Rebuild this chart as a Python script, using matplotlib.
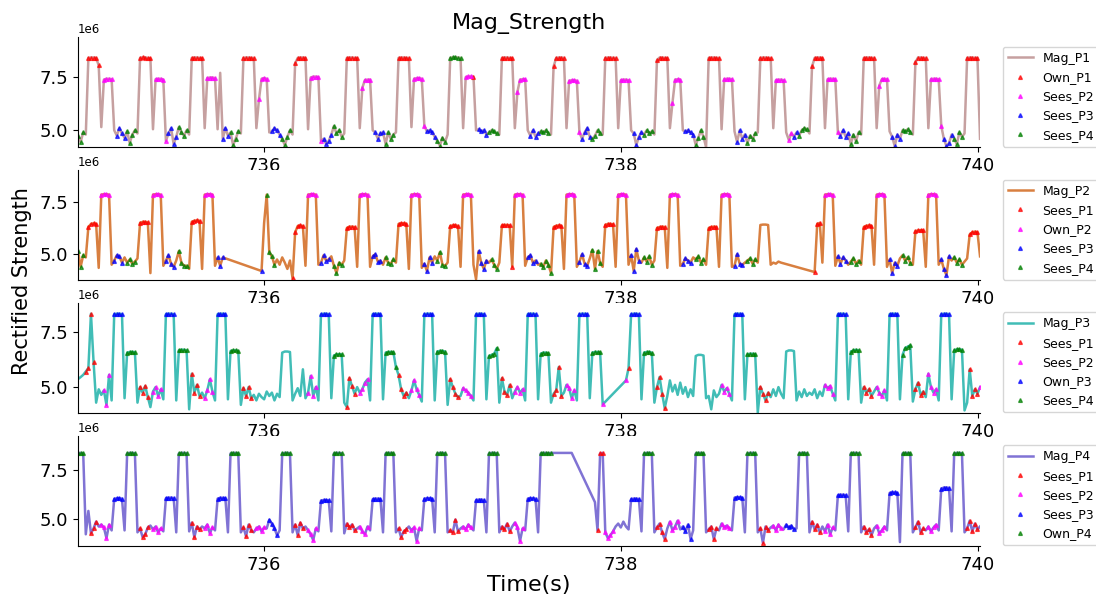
import numpy as np
import matplotlib.pyplot as plt

# sample grid (seconds)
T_START = 734.958
T_STEP = 0.014485
N_SAMPLES = 350

# magnitudes in units of 1e6, one row per ~0.29 s cycle, None = no sample
MAG_P1 = [
    4.75, 4.45, 4.9, 4.8,
    8.4, 8.42, 8.42, 8.4, 8.05, 5.15, 7.38, 7.42, 7.42, 7.4, 5.0, 4.75, 5.1, 4.85, 4.65, 4.95, 4.4, 4.8, 5.0, 4.85,
    8.4, 8.43, 8.42, 8.4, 8.38, 5.05, 7.4, 7.42, 7.42, 7.38, 4.5, 4.85, 5.1, 4.35, 4.7, 5.15, 4.9, 4.75, 5.0, 4.8,
    8.4, 8.42, 8.42, 8.4, 8.4, 5.1, 7.45, 7.48, 7.48, 7.45, 5.05, 7.7, 4.6, 5.1, 4.75, 4.9, 4.3, 4.6, 4.95, 4.85,
    8.4, 8.42, 8.42, 8.4, 8.4, 5.1, 6.45, 7.42, 7.45, 7.42, 4.9, 4.95, 5.1, 5.0, 4.8, 4.6, 4.3, 4.7, 5.0, 4.8,
    8.15, 8.4, 8.42, 8.42, 8.4, 5.05, 7.48, 7.52, 7.52, 7.5, 4.5, 4.6, 4.35, 4.5, 4.8, 5.2, 4.85, 5.0, 4.7, 4.85,
    8.4, 8.42, 8.42, 8.4, 8.4, 5.1, 7.0, 7.36, 7.38, 7.38, 5.0, 4.9, 4.6, 4.85, 4.9, 4.35, 4.9, 4.6, 4.8, 4.9,
    8.4, 8.42, 8.42, 8.4, 8.4, 5.15, 7.42, 7.45, 7.45, 7.42, 5.2, 4.95, 5.0, 4.9, 4.7, 4.5, 4.28, 4.65, 4.45, 4.8,
    8.4, 8.43, 8.43, 8.42, 8.4, 5.1, 7.5, 7.53, 7.53, 7.52, 5.0, 5.05, 4.95, 5.0, 4.8, 4.9, 5.0, 4.95, 4.85, 4.8,
    8.4, 8.42, 8.42, 8.4, 8.4, 5.1, 6.8, 7.38, 7.4, 7.4, 5.0, 4.75, 5.0, 4.7, 4.85, 4.95, 4.9, 5.0, 4.85, 4.8,
    8.0, 8.4, 8.42, 8.42, 8.4, 5.1, 7.33, 7.35, 7.35, 7.33, 4.9, 4.6, 4.9, 5.1, 4.7, 4.6, 4.75, 5.0, 4.85, 4.8,
    8.4, 8.42, 8.42, 8.4, 8.4, 5.1, 7.35, 7.38, 7.38, 7.35, 5.0, 4.85, 4.3, 4.7, 4.9, 4.8, 5.0, 4.85, 4.95, 4.8,
    8.3, 8.42, 8.42, 8.4, 8.4, 5.1, 6.3, 7.38, 7.4, 7.38, 5.0, 4.95, 5.0, 4.9, 4.8, 4.3, 4.65, 5.0, 4.7, 4.2,
    8.4, 8.42, 8.42, 8.4, 8.4, 5.05, 7.4, 7.42, 7.42, 7.4, 4.95, 4.45, 5.0, 4.6, 4.8, 4.4, 4.75, 4.6, 4.85, 4.9,
    8.4, 8.42, 8.42, 8.4, 8.4, 5.1, 7.35, 7.38, 7.38, 7.35, 4.9, 4.55, 4.85, 4.7, 4.9, 4.75, 5.0, 5.1, 5.05, 4.85,
    8.0, 8.4, 8.42, 8.42, 8.4, 5.1, 7.4, 7.42, 7.42, 7.4, 4.9, 4.75, 5.0, 4.7, 4.85, 4.35, 4.8, 4.5, 4.9, 4.8,
    8.4, 8.42, 8.42, 8.4, 8.4, 5.1, 7.1, 7.4, 7.42, 7.4, 4.95, 4.7, 4.25, 4.8, 4.6, 5.0, 4.95, 5.05, 4.9, 4.8,
    8.2, 8.42, 8.42, 8.4, 8.4, 5.1, 7.4, 7.42, 7.42, 7.4, 5.2, 4.6, 4.25, 4.4, 4.8, 4.6, 4.35, 4.9, 4.7, 4.85,
    8.4, 8.42, 8.42, 8.4, 8.4, 4.6,
]
# which transmitter each sample is attributed to ('.' = none)
SRC_P1 = (
    "444."
    "11111.2222.33334444."
    "11111.2222233334444."
    "11111.2222..3334444."
    "11111.2222.33334444."
    "11111.2222233334444."
    "11111.2222.33334444."
    "11111.2222233334444."
    "44444.2221.33334444."
    "11111.2222.33334444."
    "11111.2222233334444."
    "11111.2222.33334444."
    "11111.2222.33334444."
    "11111.2222.33334444."
    "11111.2222.22334444."
    "11111.2222233334444."
    "11111.2222.33334444."
    "11111.2222233334444."
    "11111."
)

MAG_P2 = [
    5.15, 4.4, 4.95, 4.85,
    6.3, 6.45, 6.48, 6.45, 4.35, 7.85, 7.87, 7.87, 7.85, 4.5, 4.7, 4.95, 4.9, 4.6, 4.85, 4.6, 4.75, 4.55, 4.65, 4.8,
    6.5, 6.55, 6.55, 6.52, 4.1, 7.85, 7.87, 7.87, 7.85, 4.45, 4.7, 4.95, 4.55, 4.4, 4.7, 5.15, 4.6, 4.45, 4.45, 4.3,
    6.55, 6.6, 6.62, 6.6, 4.3, 7.85, 7.87, 7.87, 7.85, 4.45, 4.85, 4.45, 4.85, None, None, None, None, None, None, None,
    None, None, None, None, None, None, None, 4.2, 6.5, 7.85, 5.1, 4.9, 4.5, 4.75, 4.5, 4.85, 4.6, 4.3, 4.7, 3.85,
    6.05, 6.35, 6.38, 6.35, 4.45, 7.85, 7.87, 7.87, 7.85, 4.5, 4.6, 4.95, 4.7, 4.75, 4.9, 4.45, 4.1, 4.6, 4.5, 4.7,
    6.25, 6.32, 6.32, 6.3, 4.4, 7.85, 7.87, 7.87, 7.85, 4.4, 4.9, 5.0, 4.65, 4.7, 4.5, 4.85, 4.6, 4.55, 4.75, 4.6,
    6.45, 6.48, 6.48, 6.45, 4.3, 7.85, 7.87, 7.87, 7.85, 4.35, 4.55, 4.2, 4.85, 4.6, 4.9, 4.7, 5.1, 4.5, 4.45, 4.6,
    6.35, 6.38, 6.38, 6.36, 4.4, 7.85, 7.87, 7.87, 7.85, 4.5, 3.8, 5.15, 4.6, 4.3, 4.7, 4.6, 4.75, 4.5, 4.3, 4.6,
    6.38, 6.4, 6.4, 6.38, 4.4, 7.85, 7.87, 7.87, 7.85, 4.45, 4.85, 4.95, 4.6, 4.7, 4.5, 4.55, 4.4, 4.7, 4.5, 4.1,
    6.3, 6.36, 6.38, 6.36, 4.3, 7.85, 7.87, 7.87, 7.85, 4.4, 4.65, 5.0, 4.55, 4.45, 4.8, 5.2, 4.3, 5.15, 4.6, 4.4,
    6.4, 6.45, 6.45, 6.43, 4.4, 7.85, 7.87, 7.87, 7.85, 4.5, 4.95, 4.2, 5.25, 4.7, 4.6, 4.85, 4.65, 4.9, 4.5, 4.7,
    6.25, 6.3, 6.32, 6.3, 4.35, 7.85, 7.87, 7.87, 7.85, 4.45, 4.55, 4.8, 4.7, 4.6, 4.85, 4.75, 4.9, 4.6, 4.75, 4.5,
    6.25, 6.3, 6.32, 6.3, 4.4, 7.85, 7.87, 7.87, 7.85, 4.4, 4.45, 5.0, 4.55, 4.5, 4.6, 4.7, 4.8, 4.55, 4.75, 4.6,
    6.4, 6.42, 6.42, 6.4, 4.5, 4.6, 4.55, 4.65, 4.6, None, None, None, None, None, None, None, None, None, None, None,
    None, 4.15, 6.45, 6.5, 4.6, 7.85, 7.87, 7.87, 7.85, 4.45, 4.9, 4.55, 4.85, 4.7, 4.5, 4.65, 4.8, 4.55, 4.7, 4.5,
    6.3, 6.36, 6.38, 6.36, 4.5, 7.85, 7.87, 7.87, 7.85, 4.4, 4.75, 4.1, 4.6, 4.45, 4.8, 4.95, 4.7, 4.85, 4.6, 4.5,
    6.1, 6.14, 6.15, 6.14, 4.4, 7.85, 7.87, 7.87, 7.85, 4.5, 4.75, 4.3, 4.0, 4.9, 4.7, 4.85, 4.6, 4.75, 4.5, 4.65,
    4.8, 5.95, 6.05, 6.08, 6.05, 4.9,
]
SRC_P2 = (
    "444."
    "1111.2222.3333.4444."
    "1111.2222.3333.4444."
    "1111.2222.333......."
    ".......3.4444......1"
    "1111.2222.3333.4444."
    "1111.2222.3333.4444."
    "1111.2222.3333.4444."
    "1111.2222..3333.444."
    "111112222.3333.44444"
    "1111.2222.3333.4444."
    "1111.2222.3333.4444."
    "1111.2222.3333.4444."
    "1111.2222.3333.4444."
    "...................."
    ".111.2222.3333.4444."
    "1111.2222.3333.4444."
    "1111.2222.3333.4444."
    ".1111."
)

MAG_P3 = [
    5.36, 5.45, 5.55, 5.7,
    5.85, 8.3, 6.15, 4.3, 4.9, 4.65, 4.85, 4.2, 5.55, 4.4, 8.28, 8.3, 8.3, 8.28, 4.5, 6.55, 6.58, 6.58, 6.57, 4.3,
    5.0, 4.75, 5.05, 4.55, 4.1, 4.8, 5.0, 4.6, 4.9, 4.45, 8.28, 8.3, 8.3, 8.28, 4.4, 6.65, 6.68, 6.68, 6.65, 4.0,
    5.6, 4.75, 5.1, 4.6, 4.75, 4.5, 4.85, 5.35, 4.8, 4.4, 8.28, 8.3, 8.3, 8.28, 4.45, 6.62, 6.65, 6.65, 6.62, 4.2,
    4.95, 4.6, 5.0, 4.5, 4.65, 4.4, 4.7, 4.55, 4.45, 4.8, 4.6, 4.75, 4.4, 4.7, 4.55, 6.55, 6.6, 6.6, 6.58, 4.4,
    4.7, 4.95, 4.6, 5.8, 4.5, 4.75, 5.5, 4.6, 5.0, 4.4, 8.28, 8.3, 8.3, 8.28, 4.5, 6.42, 6.47, 6.48, 6.47, 4.3,
    4.1, 5.4, 5.05, 4.7, 5.0, 4.75, 4.9, 5.2, 5.35, 4.4, 8.28, 8.3, 8.3, 8.28, 4.45, 6.55, 6.58, 6.58, 6.57, 5.9,
    5.55, 4.9, 4.6, 4.75, 4.5, 4.85, 5.3, 4.9, 4.65, 4.35, 8.28, 8.3, 8.3, 8.28, 4.4, 6.6, 6.63, 6.63, 6.6, 4.2,
    5.35, 5.0, 4.7, 4.55, 4.6, 4.95, 4.85, 4.75, 4.6, 4.4, 8.28, 8.3, 8.3, 8.28, 4.45, 6.4, 6.45, 6.5, 6.75, 4.3,
    5.4, 4.8, 4.65, 5.1, 4.5, 4.8, 5.0, 4.75, 4.9, 4.4, 8.28, 8.3, 8.3, 8.28, 4.45, 6.5, 6.55, 6.55, 6.52, 4.3,
    4.7, 4.85, 5.9, 4.6, 4.75, 5.1, 4.95, 4.5, 4.85, 4.4, 8.28, 8.3, 8.3, 8.28, 4.5, 6.55, 6.58, 6.58, 6.57, 4.22,
    None, None, None, None, None, None, None, None, 5.3, 5.85, 8.28, 8.3, 8.3, 8.28, 4.45, 6.55, 6.58, 6.58, 6.55, 4.3,
    5.0, 5.45, 4.7, 4.05, 4.6, 5.3, 4.8, 5.1, 4.65, 5.2, 4.7, 5.0, 4.55, 4.9, 4.6, 6.4, 6.45, 6.45, 6.42, 4.5,
    4.6, 4.0, 4.85, 4.55, 4.7, 5.1, 4.8, 4.95, 4.7, 4.4, 8.28, 8.3, 8.3, 8.28, 4.45, 6.47, 6.5, 6.5, 6.48, 3.85,
    5.0, 4.7, 4.4, 4.75, 4.55, 4.9, 4.6, 5.0, 4.7, 4.5, 6.6, 6.65, 6.65, 6.62, 4.4, 4.8, 4.55, 4.9, 4.6, 4.75,
    4.65, 4.9, 4.5, 4.8, 4.6, 5.1, 4.95, 5.05, 4.7, 4.4, 8.28, 8.3, 8.3, 8.28, 4.45, 6.6, 6.65, 6.68, 6.65, 4.3,
    5.0, 4.75, 4.9, 4.6, 4.8, 5.0, 4.75, 4.6, 4.85, 4.4, 8.28, 8.3, 8.3, 8.28, 4.45, 6.45, 6.75, 6.82, 6.88, 4.35,
    4.9, 5.2, 4.65, 4.8, 4.55, 5.6, 5.0, 4.75, 4.9, 4.4, 8.28, 8.3, 8.3, 8.28, 4.45, 6.65, 6.7, 6.7, 6.68, 3.95,
    4.3, 5.8, 4.6, 4.9, 4.7, 5.0,
]
SRC_P3 = (
    "...1"
    "111...222.3333.4444."
    "1111.2222.3333.4444."
    "1111.2222.3333.4444."
    "1111................"
    ".....2222.3333.4444."
    "1111.2222.3333.44444"
    "1111.2222.3333.4444."
    "1111.2222.3333.4444."
    "1111.2222.3333.4444."
    "1111.2222.3333.44442"
    "........213333.4444."
    "1111................"
    ".....2222.3333.4444."
    "1111................"
    ".....2222.3333.4444."
    "1111.2222.3333.4444."
    "1111.2222.3333.4444."
    ".11112"
)

MAG_P4 = [
    8.36, 8.38, 8.36, 4.2,
    5.4, 4.25, 4.5, 4.85, 4.6, 4.7, 4.55, 4.0, 4.7, 4.4, 6.02, 6.05, 6.05, 6.03, 4.4, 8.35, 8.38, 8.38, 8.36, 4.3,
    4.5, 4.05, 4.2, 4.55, 4.65, 4.45, 4.6, 4.3, 4.5, 4.35, 6.05, 6.08, 6.08, 6.06, 4.3, 8.35, 8.38, 8.38, 8.36, 4.35,
    4.8, 4.05, 4.6, 4.45, 4.6, 4.5, 4.7, 4.25, 4.55, 4.4, 6.03, 6.07, 6.07, 6.05, 4.3, 8.35, 8.38, 8.38, 8.36, 4.3,
    4.55, 4.1, 4.7, 4.4, 4.3, 4.5, 4.6, 4.35, 4.55, 4.5, 4.95, 4.75, 4.5, 4.15, 4.4, 8.35, 8.38, 8.38, 8.36, 4.3,
    4.7, 4.15, 4.8, 4.5, 4.6, 4.4, 4.2, 3.9, 4.5, 4.35, 5.93, 5.96, 5.96, 5.94, 4.35, 8.35, 8.38, 8.38, 8.36, 4.25,
    4.75, 4.55, 4.7, 4.4, 4.5, 4.6, 4.35, 4.2, 4.6, 4.4, 6.0, 6.03, 6.03, 6.01, 4.3, 8.35, 8.38, 8.38, 8.36, 4.3,
    4.5, 4.05, 4.35, 4.45, 4.6, 4.4, 4.55, 3.85, 4.5, 4.4, 6.03, 6.05, 6.05, 6.03, 4.3, 8.35, 8.38, 8.38, 8.36, 4.3,
    4.4, 4.3, 4.95, 4.35, 4.5, 4.6, 4.45, 4.7, 4.55, 4.4, 5.95, 5.98, 5.98, 5.96, 4.3, 8.35, 8.38, 8.38, 8.36, 4.3,
    4.6, 4.45, 4.75, 4.35, 4.6, 4.8, 4.55, 3.85, 4.5, 4.4, 6.03, 6.05, 6.05, 6.03, 4.3, 8.35, 8.38, 8.38, 8.36, 8.38,
    None, None, None, None, None, None, None, 8.38, None, None, None, None, None, None, None, None, 5.85, 4.4, 8.35, 8.38,
    4.3, 4.0, 4.15, 4.35, 4.6, 4.75, 4.55, 4.85, 4.6, 4.45, 6.0, 6.03, 6.03, 6.01, 4.35, 8.35, 8.38, 8.38, 8.36, 4.3,
    4.55, 4.75, 4.3, 3.95, 4.5, 4.85, 4.4, 4.6, 4.9, 4.45, 4.6, 4.35, 4.7, 3.95, 4.4, 8.35, 8.38, 8.38, 8.36, 4.3,
    4.45, 4.6, 3.95, 4.5, 4.4, 4.75, 4.55, 4.65, 4.5, 4.4, 6.08, 6.1, 6.1, 6.08, 4.3, 8.35, 8.38, 8.38, 8.36, 4.3,
    4.5, 3.75, 4.6, 4.4, 4.55, 4.65, 4.4, 4.7, 4.5, 4.45, 4.7, 4.55, 4.65, 4.45, 4.5, 8.35, 8.38, 8.38, 8.36, 4.3,
    4.85, 4.45, 4.7, 4.3, 4.6, 4.35, 4.7, 4.2, 4.55, 4.4, 6.2, 6.23, 6.23, 6.21, 4.35, 8.35, 8.38, 8.38, 8.36, 4.3,
    4.6, 4.3, 4.45, 4.15, 4.5, 4.65, 4.25, 4.4, 4.6, 4.4, 6.32, 6.35, 6.35, 6.33, 3.8, 8.35, 8.38, 8.38, 8.36, 4.3,
    4.55, 4.85, 4.3, 4.5, 4.4, 4.6, 4.35, 4.55, 4.7, 4.4, 6.55, 6.6, 6.6, 6.58, 4.35, 8.35, 8.38, 8.38, 8.36, 4.3,
    4.5, 4.9, 4.35, 4.75, 4.45, 4.6,
]
SRC_P4 = (
    "444."
    ".111.2222.3333.4444."
    "1111.2222.3333.4444."
    "1111.2222.3333.4444."
    "1111.2222.3333.4444."
    "1111.2222.3333.4444."
    "1111.2222.3333.4444."
    "1111.2222.3333.4444."
    "1111.2222.3333.4444."
    "1111.2222.3333.44444"
    ".................111"
    "2222......3333.4444."
    "1111.2222.3333.4444."
    "1111.2222.3333.4444."
    "1111.2222.3333.4444."
    "1111.2222.3333.4444."
    "1111.2222.3333.4444."
    "1111.2222.3333.4444."
    "11111."
)

PANELS = [
    ("P1", MAG_P1, SRC_P1, "rosybrown", (4.2, 9.37)),
    ("P2", MAG_P2, SRC_P2, "chocolate", (3.76, 9.02)),
    ("P3", MAG_P3, SRC_P3, "lightseagreen", (3.83, 8.78)),
    ("P4", MAG_P4, SRC_P4, "slateblue", (3.6, 9.25)),
]
NODES = ["P1", "P2", "P3", "P4"]
MARKER_COLORS = ["red", "magenta", "blue", "green"]

t = T_START + T_STEP * np.arange(N_SAMPLES)

fig, axes = plt.subplots(4, 1, figsize=(10.96, 5.98), dpi=100)
fig.subplots_adjust(left=0.0712, right=0.8942, top=0.9376, bottom=0.087, hspace=0.208)

for ax, (name, mag, src, color, ylim) in zip(axes, PANELS):
    vals = np.array(mag, dtype=float)
    assert len(vals) == N_SAMPLES and len(src) == N_SAMPLES, name
    ok = ~np.isnan(vals)
    ax.plot(t[ok], vals[ok] * 1e6, color=color, lw=1.8, alpha=0.85, label=f"Mag_{name}")

    for node, mcol in zip(NODES, MARKER_COLORS):
        idx = np.array([i for i, c in enumerate(src) if c == node[1]], dtype=int)
        lab = f"Own_{node}" if node == name else f"Sees_{node}"
        ax.plot(t[idx], vals[idx] * 1e6, linestyle="none", marker="^", ms=2.7,
                color=mcol, alpha=0.7, label=lab)

    ax.set_xlim(t[0], t[-1])
    ax.set_ylim(ylim[0] * 1e6, ylim[1] * 1e6)
    ax.set_xticks([736, 738, 740])
    ax.set_yticks([5e6, 7.5e6])
    ax.tick_params(labelsize=13)
    ax.yaxis.get_offset_text().set_fontsize(8.5)
    ax.spines["top"].set_visible(False)
    ax.spines["right"].set_visible(False)
    ax.legend(loc="upper left", bbox_to_anchor=(1.025, 0.915), borderaxespad=0,
              fontsize=9)

axes[0].set_title("Mag_Strength", fontsize=16)
fig.text(0.02, 0.53, "Rectified Strength", rotation=90, ha="center", va="center", fontsize=15)
fig.text(0.4826, 0.022, "Time(s)", ha="center", va="center", fontsize=16)

fig.savefig("out.png", dpi=100)
